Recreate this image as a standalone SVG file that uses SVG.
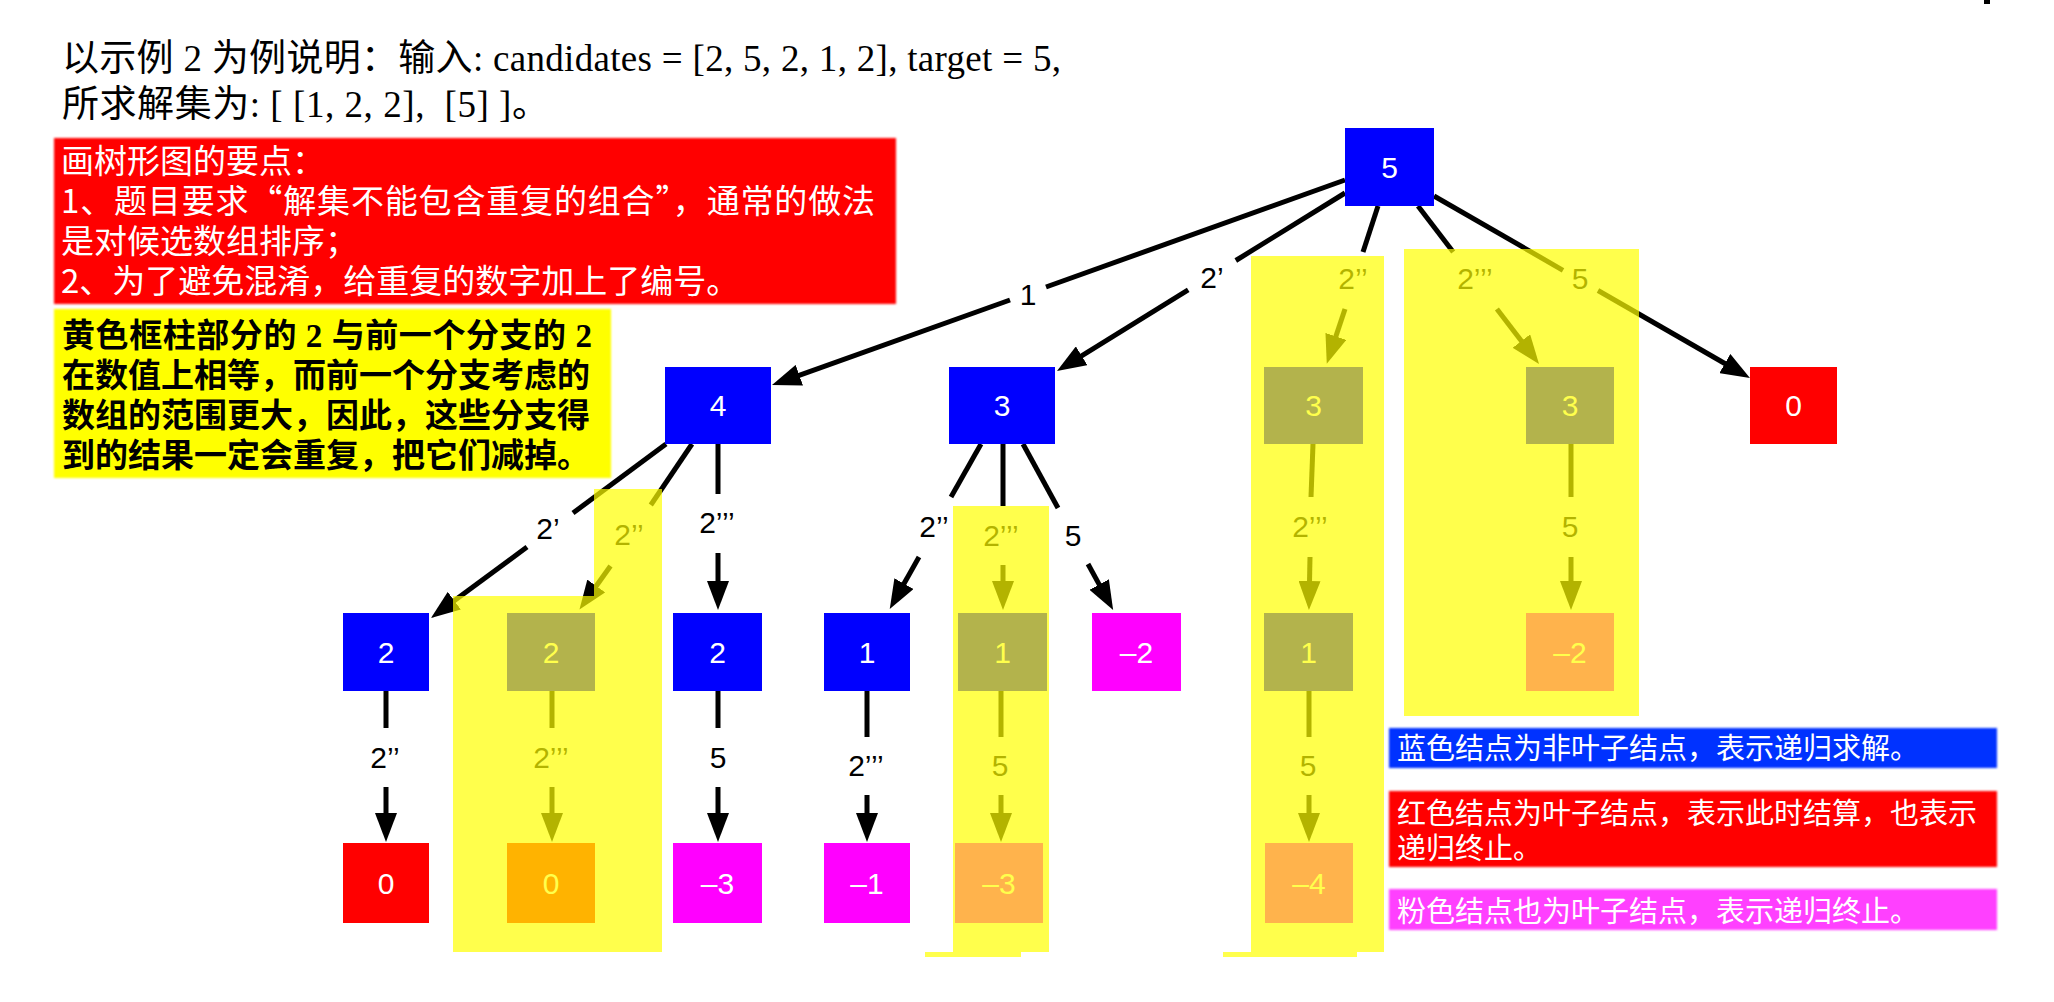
<svg xmlns="http://www.w3.org/2000/svg" width="2054" height="1002" viewBox="0 0 2054 1002">
<defs>
<style>
.blue{fill:#0000ff}
.red{fill:#ff0000}
.mag{fill:#ff00ff}
.nt{font-family:"Liberation Sans",Arial,sans-serif;font-size:30px;fill:#ffffff;text-anchor:middle}
.lbl{font-family:"Liberation Sans",Arial,sans-serif;font-size:30px;fill:#000000;text-anchor:middle}
.e{stroke:#000000;stroke-width:5;fill:none}
.a{marker-end:url(#ah)}
.ov{fill:#ffff00;fill-opacity:0.7}
.ttl{font-family:"Liberation Serif","Noto Sans CJK SC",serif;font-size:37px;fill:#000000}
.cn{font-family:"Noto Sans CJK SC",sans-serif;fill:#ffffff}
.yb{font-family:"Liberation Serif","Noto Sans CJK SC",serif;font-size:33px;font-weight:bold;fill:#000000}
</style>
<marker id="ah" viewBox="0 -11 29 22" markerWidth="29" markerHeight="22" refX="1" refY="0" markerUnits="userSpaceOnUse" orient="auto">
<path d="M0,-11 L29,0 L0,11 Z" fill="#000000"/>
</marker>
<filter id="soft" x="-5%" y="-20%" width="110%" height="140%">
<feGaussianBlur stdDeviation="1.3"/>
</filter>
</defs>
<rect x="0" y="0" width="2054" height="1002" fill="#ffffff"/>
<rect x="1984" y="0" width="6" height="4" fill="#000000"/>

<g id="title">
<text class="ttl" x="62" y="71" textLength="999">以示例 2 为例说明：输入: candidates = [2, 5, 2, 1, 2], target = 5,</text>
<text class="ttl" x="62" y="117" textLength="487" xml:space="preserve">所求解集为: [ [1, 2, 2],  [5] ]。</text>
</g>

<g id="note-red">
<rect x="54" y="138" width="842" height="166" fill="#ff0000" filter="url(#soft)"/>
<text class="cn" font-size="33" x="61" y="173">画树形图的要点：</text>
<text class="cn" font-size="33" x="61" y="213" textLength="814">1、题目要求“解集不能包含重复的组合”，通常的做法</text>
<text class="cn" font-size="33" x="61" y="253">是对候选数组排序；</text>
<text class="cn" font-size="33" x="61" y="293">2、为了避免混淆，给重复的数字加上了编号。</text>
</g>

<g id="note-yellow">
<rect x="54" y="309" width="557" height="169" fill="#ffff00" filter="url(#soft)"/>
<text class="yb" x="62" y="347" textLength="530">黄色框柱部分的 2 与前一个分支的 2</text>
<text class="yb" x="62" y="387">在数值上相等，而前一个分支考虑的</text>
<text class="yb" x="62" y="427">数组的范围更大，因此，这些分支得</text>
<text class="yb" x="62" y="467">到的结果一定会重复，把它们减掉。</text>
</g>

<g id="connectors">
<line class="e" x1="1345" y1="180" x2="1046" y2="287"/>
<line class="e a" x1="1010" y1="300" x2="798.4" y2="375.6"/>
<text class="lbl" x="1028" y="305">1</text>

<line class="e" x1="1345" y1="193" x2="1235.8" y2="260.5"/>
<line class="e a" x1="1188.2" y1="289.9" x2="1080.8" y2="356.3"/>
<text class="lbl" x="1212" y="288">2’</text>

<line class="e" x1="1378" y1="206" x2="1363" y2="252"/>
<line class="e a" x1="1345" y1="309" x2="1335.6" y2="337.3"/>
<text class="lbl" x="1353" y="289">2’’</text>

<line class="e" x1="1418" y1="206" x2="1453.2" y2="252"/>
<line class="e a" x1="1496.9" y1="309" x2="1522" y2="341.8"/>
<text class="lbl" x="1475" y="289">2’’’</text>

<line class="e" x1="1434" y1="196" x2="1563" y2="270.3"/>
<line class="e a" x1="1598" y1="290.5" x2="1725.7" y2="364"/>
<text class="lbl" x="1580" y="289">5</text>

<line class="e" x1="666" y1="444" x2="573" y2="513"/>
<line class="e a" x1="527" y1="547" x2="453.5" y2="601.3"/>
<text class="lbl" x="548" y="539">2’</text>

<line class="e" x1="692" y1="444" x2="650.8" y2="505"/>
<line class="e a" x1="610.5" y1="566" x2="595.7" y2="586.8"/>
<text class="lbl" x="629" y="545">2’’</text>

<line class="e" x1="718" y1="444" x2="718" y2="494"/>
<line class="e a" x1="718" y1="553" x2="718" y2="582"/>
<text class="lbl" x="717" y="533">2’’’</text>

<line class="e" x1="981" y1="444" x2="951" y2="497"/>
<line class="e a" x1="919" y1="557" x2="903.5" y2="584.5"/>
<text class="lbl" x="934" y="537">2’’</text>

<line class="e" x1="1003" y1="444" x2="1003" y2="506"/>
<line class="e a" x1="1003" y1="565" x2="1003" y2="582"/>
<text class="lbl" x="1001" y="546">2’’’</text>

<line class="e" x1="1023" y1="444" x2="1058" y2="508"/>
<line class="e a" x1="1088" y1="564" x2="1099.7" y2="585.4"/>
<text class="lbl" x="1073" y="546">5</text>

<line class="e" x1="1313" y1="444" x2="1311" y2="497"/>
<line class="e a" x1="1310" y1="557" x2="1309.5" y2="582"/>
<text class="lbl" x="1310" y="537">2’’’</text>

<line class="e" x1="1571" y1="444" x2="1571" y2="497"/>
<line class="e a" x1="1571" y1="557" x2="1571" y2="582"/>
<text class="lbl" x="1570" y="537">5</text>

<line class="e" x1="386" y1="691" x2="386" y2="728"/>
<line class="e a" x1="386" y1="787" x2="386" y2="814"/>
<text class="lbl" x="385" y="768">2’’</text>

<line class="e" x1="552" y1="691" x2="552" y2="728"/>
<line class="e a" x1="552" y1="787" x2="552" y2="814"/>
<text class="lbl" x="551" y="768">2’’’</text>

<line class="e" x1="718" y1="691" x2="718" y2="728"/>
<line class="e a" x1="718" y1="787" x2="718" y2="814"/>
<text class="lbl" x="718" y="768">5</text>

<line class="e" x1="867" y1="691" x2="867" y2="737"/>
<line class="e a" x1="867" y1="795" x2="867" y2="814"/>
<text class="lbl" x="866" y="776">2’’’</text>

<line class="e" x1="1001" y1="691" x2="1001" y2="737"/>
<line class="e a" x1="1001" y1="795" x2="1001" y2="814"/>
<text class="lbl" x="1000" y="776">5</text>

<line class="e" x1="1309" y1="691" x2="1309" y2="737"/>
<line class="e a" x1="1309" y1="795" x2="1309" y2="814"/>
<text class="lbl" x="1308" y="776">5</text>
</g>

<g id="n5"><rect class="blue" x="1345" y="128" width="89" height="78"/><text class="nt" x="1389.5" y="178">5</text></g>
<g id="n4"><rect class="blue" x="665" y="367" width="106" height="77"/><text class="nt" x="718" y="416">4</text></g>
<g id="n3a"><rect class="blue" x="949" y="367" width="106" height="77"/><text class="nt" x="1002" y="416">3</text></g>
<g id="n3b"><rect class="blue" x="1264" y="367" width="99" height="77"/><text class="nt" x="1313.5" y="416">3</text></g>
<g id="n3c"><rect class="blue" x="1526" y="367" width="88" height="77"/><text class="nt" x="1570" y="416">3</text></g>
<g id="n0a"><rect class="red" x="1750" y="367" width="87" height="77"/><text class="nt" x="1793.5" y="416">0</text></g>

<g id="n2a"><rect class="blue" x="343" y="613" width="86" height="78"/><text class="nt" x="386" y="663">2</text></g>
<g id="n2b"><rect class="blue" x="507" y="613" width="88" height="78"/><text class="nt" x="551" y="663">2</text></g>
<g id="n2c"><rect class="blue" x="673" y="613" width="89" height="78"/><text class="nt" x="717.5" y="663">2</text></g>
<g id="n1a"><rect class="blue" x="824" y="613" width="86" height="78"/><text class="nt" x="867" y="663">1</text></g>
<g id="n1b"><rect class="blue" x="958" y="613" width="89" height="78"/><text class="nt" x="1002.5" y="663">1</text></g>
<g id="nm2a"><rect class="mag" x="1092" y="613" width="89" height="78"/><text class="nt" x="1136.5" y="663">–2</text></g>
<g id="n1c"><rect class="blue" x="1264" y="613" width="89" height="78"/><text class="nt" x="1308.5" y="663">1</text></g>
<g id="nm2b"><rect class="mag" x="1526" y="613" width="88" height="78"/><text class="nt" x="1570" y="663">–2</text></g>

<g id="n0b"><rect class="red" x="343" y="843" width="86" height="80"/><text class="nt" x="386" y="894">0</text></g>
<g id="n0c"><rect class="red" x="507" y="843" width="88" height="80"/><text class="nt" x="551" y="894">0</text></g>
<g id="nm3a"><rect class="mag" x="673" y="843" width="89" height="80"/><text class="nt" x="717.5" y="894">–3</text></g>
<g id="nm1"><rect class="mag" x="824" y="843" width="86" height="80"/><text class="nt" x="867" y="894">–1</text></g>
<g id="nm3b"><rect class="mag" x="955" y="843" width="88" height="80"/><text class="nt" x="999" y="894">–3</text></g>
<g id="nm4"><rect class="mag" x="1265" y="843" width="88" height="80"/><text class="nt" x="1309" y="894">–4</text></g>

<g id="yellow-columns">
<path class="ov" d="M594,489 H662 V952 H453 V596 H594 Z"/>
<path class="ov" d="M953,506 H1049 V952 H1021 V957 H925 V952 H953 Z"/>
<path class="ov" d="M1251,256 H1384 V952 H1357 V957 H1223 V952 H1251 Z"/>
<rect class="ov" x="1404" y="249" width="235" height="467"/>
</g>

<g id="legend-blue">
<rect x="1389" y="728" width="608" height="40" fill="#0433ff" filter="url(#soft)"/>
<text class="cn" font-size="29" x="1397" y="759">蓝色结点为非叶子结点，表示递归求解。</text>
</g>
<g id="legend-red">
<rect x="1389" y="791" width="608" height="76" fill="#ff0000" filter="url(#soft)"/>
<text class="cn" font-size="29" x="1397" y="824">红色结点为叶子结点，表示此时结算，也表示</text>
<text class="cn" font-size="29" x="1397" y="859">递归终止。</text>
</g>
<g id="legend-pink">
<rect x="1389" y="889" width="608" height="41" fill="#ff40ff" filter="url(#soft)"/>
<text class="cn" font-size="29" x="1397" y="922">粉色结点也为叶子结点，表示递归终止。</text>
</g>
</svg>
